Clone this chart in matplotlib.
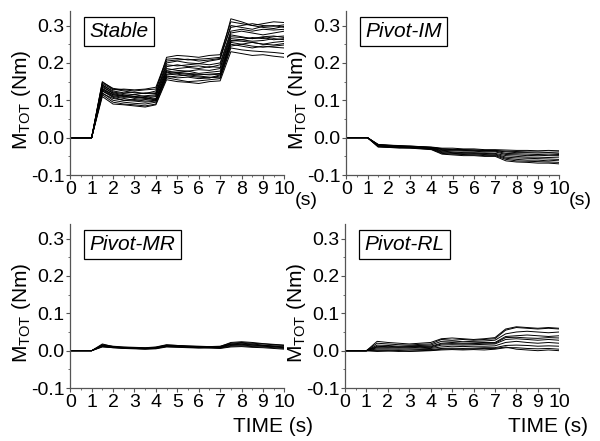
import matplotlib
matplotlib.use("Agg")
import matplotlib.pyplot as plt
from matplotlib.ticker import MultipleLocator

plt.rcParams['font.family'] = ['Liberation Sans', 'DejaVu Sans']
plt.rcParams['mathtext.default'] = 'regular'

# time samples (s)
TIME = [0, 0.5, 1.0, 1.5, 2.0, 2.5, 3.0, 3.5, 4.0, 4.5, 5.0,
        5.5, 6.0, 6.5, 7.0, 7.5, 8.0, 8.5, 9.0, 9.5, 10.0]

# M_TOT (Nm) per trial
STABLE = [
    [0, 0, 0, .150, .130, .125, .120, .118, .125, .215, .220, .218, .215, .220, .222, .310, .305, .300, .305, .310, .308],
    [0, 0, 0, .140, .125, .120, .122, .118, .120, .200, .205, .200, .198, .205, .210, .300, .295, .290, .298, .300, .295],
    [0, 0, 0, .135, .120, .115, .110, .112, .115, .190, .195, .190, .192, .188, .195, .280, .285, .280, .275, .280, .285],
    [0, 0, 0, .130, .115, .110, .108, .105, .110, .185, .180, .178, .182, .180, .185, .270, .268, .265, .270, .272, .268],
    [0, 0, 0, .125, .110, .105, .100, .102, .105, .175, .172, .170, .168, .170, .172, .260, .258, .255, .250, .255, .258],
    [0, 0, 0, .120, .100, .095, .092, .090, .095, .165, .160, .162, .158, .160, .165, .250, .245, .240, .245, .242, .240],
    [0, 0, 0, .115, .095, .090, .088, .085, .090, .160, .155, .150, .152, .155, .158, .240, .235, .232, .230, .228, .225],
    [0, 0, 0, .110, .090, .088, .085, .082, .088, .155, .150, .148, .145, .150, .152, .230, .225, .220, .222, .218, .215],
    [0, 0, 0, .145, .128, .130, .128, .130, .135, .210, .212, .208, .210, .212, .215, .295, .300, .305, .300, .298, .302],
    [0, 0, 0, .138, .118, .112, .115, .110, .112, .180, .185, .188, .185, .190, .188, .275, .270, .265, .268, .262, .265],
    [0, 0, 0, .128, .112, .108, .110, .106, .102, .170, .175, .178, .172, .175, .178, .265, .262, .258, .260, .265, .262],
    [0, 0, 0, .142, .122, .118, .115, .120, .118, .195, .192, .195, .198, .195, .200, .285, .290, .285, .290, .288, .290],
    [0, 0, 0, .118, .105, .100, .098, .095, .098, .162, .165, .168, .165, .162, .160, .245, .250, .255, .250, .248, .252],
    [0, 0, 0, .132, .115, .112, .105, .108, .100, .178, .175, .172, .170, .168, .170, .255, .250, .245, .242, .245, .248],
    [0, 0, 0, .125, .108, .100, .102, .098, .100, .168, .170, .165, .162, .160, .168, .258, .262, .268, .265, .270, .272],
    [0, 0, 0, .148, .132, .128, .125, .128, .130, .205, .208, .210, .205, .208, .212, .318, .310, .300, .295, .292, .298],
]

PIVOT_IM = [
    [0, 0, 0, -.018, -.020, -.022, -.022, -.024, -.025, -.028, -.028, -.030, -.030, -.032, -.032, -.033, -.034, -.034, -.035, -.034, -.035],
    [0, 0, 0, -.020, -.022, -.022, -.024, -.025, -.026, -.030, -.032, -.032, -.033, -.034, -.035, -.038, -.040, -.040, -.041, -.040, -.042],
    [0, 0, 0, -.022, -.024, -.025, -.026, -.026, -.028, -.034, -.035, -.036, -.036, -.038, -.038, -.045, -.046, -.048, -.047, -.048, -.048],
    [0, 0, 0, -.020, -.023, -.024, -.025, -.027, -.028, -.036, -.038, -.040, -.040, -.041, -.042, -.048, -.050, -.052, -.052, -.053, -.052],
    [0, 0, 0, -.024, -.026, -.026, -.027, -.028, -.030, -.040, -.042, -.043, -.044, -.045, -.046, -.055, -.058, -.060, -.060, -.062, -.060],
    [0, 0, 0, -.025, -.026, -.028, -.028, -.030, -.032, -.044, -.046, -.048, -.048, -.050, -.050, -.062, -.065, -.066, -.068, -.068, -.070],
    [0, 0, 0, -.019, -.021, -.023, -.024, -.025, -.027, -.032, -.033, -.034, -.035, -.036, -.036, -.042, -.043, -.044, -.045, -.044, -.045],
    [0, 0, 0, -.021, -.024, -.025, -.025, -.028, -.029, -.038, -.040, -.041, -.042, -.042, -.044, -.052, -.054, -.055, -.056, -.057, -.058],
    [0, 0, 0, -.023, -.025, -.026, -.027, -.029, -.031, -.042, -.044, -.045, -.046, -.048, -.048, -.058, -.062, -.063, -.064, -.065, -.066],
    [0, 0, 0, -.018, -.020, -.021, -.023, -.024, -.026, -.030, -.031, -.032, -.033, -.034, -.034, -.036, -.037, -.038, -.038, -.039, -.038],
]

PIVOT_MR = [
    [0, 0, 0, .015, .010, .008, .007, .006, .008, .014, .012, .011, .010, .009, .010, .018, .020, .018, .015, .012, .010],
    [0, 0, 0, .012, .009, .007, .006, .005, .006, .012, .011, .010, .009, .008, .008, .014, .015, .013, .012, .010, .008],
    [0, 0, 0, .018, .011, .009, .008, .007, .009, .015, .014, .013, .012, .011, .012, .020, .022, .020, .018, .016, .014],
    [0, 0, 0, .010, .008, .006, .005, .004, .005, .010, .009, .008, .007, .007, .006, .010, .011, .009, .008, .006, .004],
    [0, 0, 0, .014, .010, .008, .007, .007, .007, .013, .012, .010, .010, .010, .009, .016, .017, .015, .013, .011, .009],
    [0, 0, 0, .016, .012, .010, .009, .008, .010, .016, .014, .012, .011, .010, .011, .022, .024, .022, .019, .017, .015],
    [0, 0, 0, .011, .008, .007, .006, .005, .007, .011, .010, .009, .008, .009, .007, .012, .013, .011, .010, .008, .006],
    [0, 0, 0, .013, .009, .008, .008, .006, .008, .014, .013, .011, .011, .010, .010, .017, .018, .016, .014, .013, .012],
]

PIVOT_RL = [
    [0, 0, 0, .020, .018, .016, .015, .017, .018, .030, .028, .030, .028, .030, .032, .055, .062, .060, .058, .060, .058],
    [0, 0, 0, .015, .014, .012, .013, .014, .015, .025, .026, .024, .025, .026, .028, .045, .050, .052, .050, .048, .050],
    [0, 0, 0, .010, .012, .010, .011, .012, .012, .020, .022, .020, .021, .022, .022, .038, .040, .042, .040, .038, .040],
    [0, 0, 0, .008, .008, .007, .008, .009, .008, .015, .016, .015, .016, .017, .018, .030, .032, .030, .028, .030, .028],
    [0, 0, 0, .005, .005, .004, .005, .005, .006, .010, .012, .011, .012, .012, .013, .022, .025, .022, .020, .022, .020],
    [0, 0, 0, .002, .002, .001, .002, .003, .003, .006, .007, .006, .007, .008, .008, .014, .015, .014, .012, .013, .012],
    [0, 0, 0, -.002, -.001, .000, -.002, -.001, .000, .002, .003, .002, .003, .002, .004, .008, .008, .006, .005, .006, .004],
    [0, 0, 0, .025, .022, .020, .018, .020, .022, .032, .034, .032, .030, .032, .035, .058, .064, .062, .060, .062, .060],
    [0, 0, 0, .012, .010, .009, .010, .011, .010, .018, .019, .018, .019, .020, .020, .035, .036, .034, .033, .035, .034],
    [0, 0, 0, .000, .000, -.002, -.001, .000, .001, .004, .005, .004, .005, .006, .006, .010, .004, .002, .000, .002, .000],
]

TITLES = ["Stable", "Pivot-IM", "Pivot-MR", "Pivot-RL"]
PANELS = [STABLE, PIVOT_IM, PIVOT_MR, PIVOT_RL]

# axes rectangles in figure fraction (left, bottom, width, height)
RECTS = [
    [0.117, 0.603, 0.357, 0.373],
    [0.577, 0.603, 0.355, 0.373],
    [0.117, 0.120, 0.357, 0.373],
    [0.575, 0.120, 0.357, 0.373],
]

fig = plt.figure(figsize=(6, 4.41), dpi=100)

for i, (title, trials) in enumerate(zip(TITLES, PANELS)):
    ax = fig.add_axes(RECTS[i])
    for y in trials:
        ax.plot(TIME, y, color="black", lw=0.7)

    ax.set_xlim(0, 10)
    ax.set_ylim(-0.1, 0.34)
    ax.xaxis.set_major_locator(MultipleLocator(1))
    ax.xaxis.set_minor_locator(MultipleLocator(0.5))
    ax.yaxis.set_minor_locator(MultipleLocator(0.05))
    ax.set_yticks([-0.1, 0.0, 0.1, 0.2, 0.3])
    ax.set_yticklabels(["-0.1", "0.0", "0.1", "0.2", "0.3"])
    ax.spines["top"].set_visible(False)
    ax.spines["right"].set_visible(False)
    for s in ("left", "bottom"):
        ax.spines[s].set_color("#555555")
        ax.spines[s].set_linewidth(0.9)
    ax.tick_params(which="major", direction="out", length=3, width=0.8,
                   labelsize=14, pad=1, color="#555555")
    ax.tick_params(which="minor", direction="out", length=1.5, width=0.6,
                   color="#555555")

    ax.set_ylabel("M$_{TOT}$ (Nm)", fontsize=15)
    ax.yaxis.set_label_coords(-0.175, 0.46)

    ax.text(0.09, 0.93, title, transform=ax.transAxes, ha="left", va="top",
            fontsize=15, style="italic",
            bbox=dict(boxstyle="square,pad=0.25", fc="white", ec="black", lw=0.9))

    if i < 2:
        ax.annotate("(s)", xy=(1, 0), xycoords="axes fraction",
                    xytext=(10, -25), textcoords="offset pixels",
                    ha="left", va="center", fontsize=14)
    else:
        ax.annotate("TIME (s)", xy=(1, 0), xycoords="axes fraction",
                    xytext=(29, -38), textcoords="offset pixels",
                    ha="right", va="center", fontsize=15)

fig.savefig("out.png", dpi=100)
